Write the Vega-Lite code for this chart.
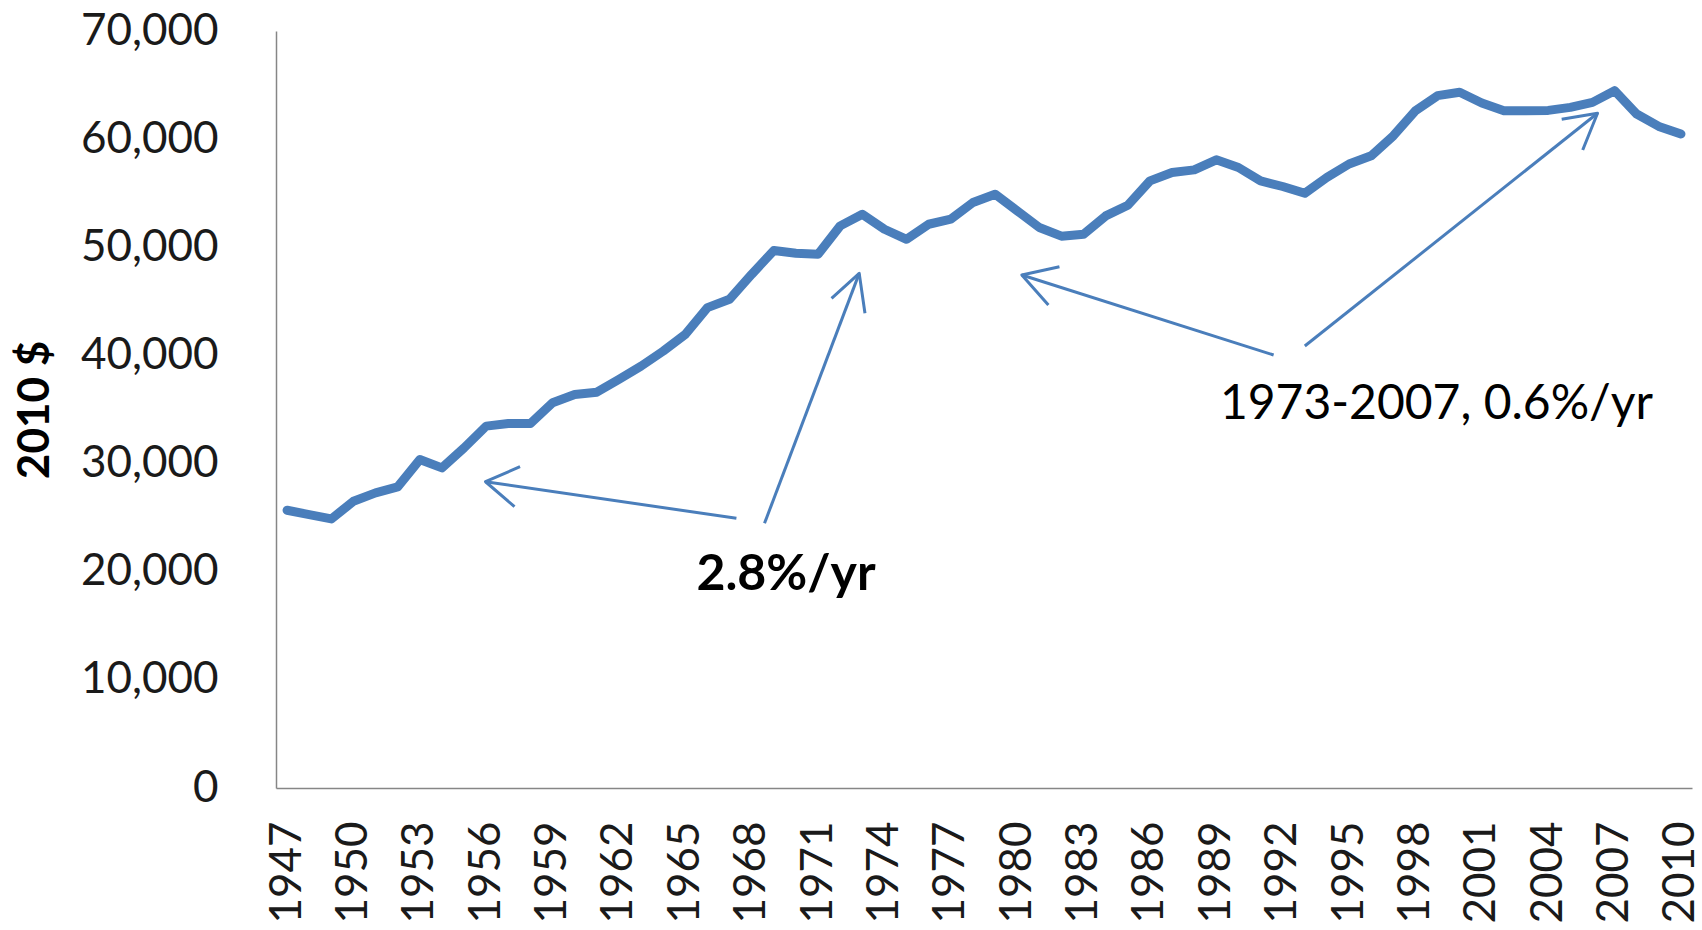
{
  "$schema": "https://vega.github.io/schema/vega-lite/v6.json",
  "autosize": {"type": "none"},
  "padding": {"left": 276, "top": 31, "right": 10, "bottom": 142},
  "width": 1416,
  "height": 757,
  "background": "white",
  "config": {
    "view": {"stroke": null},
    "font": "Lato"
  },
  "datasets": {
    "income": [
      {"year": 1947, "value": 25680}, {"year": 1948, "value": 25280}, {"year": 1949, "value": 24880},
      {"year": 1950, "value": 26510}, {"year": 1951, "value": 27290}, {"year": 1952, "value": 27840},
      {"year": 1953, "value": 30370}, {"year": 1954, "value": 29600}, {"year": 1955, "value": 31450},
      {"year": 1956, "value": 33460}, {"year": 1957, "value": 33700}, {"year": 1958, "value": 33700},
      {"year": 1959, "value": 35620}, {"year": 1960, "value": 36390}, {"year": 1961, "value": 36600},
      {"year": 1962, "value": 37780}, {"year": 1963, "value": 39010}, {"year": 1964, "value": 40400},
      {"year": 1965, "value": 41950}, {"year": 1966, "value": 44420}, {"year": 1967, "value": 45190},
      {"year": 1968, "value": 47500}, {"year": 1969, "value": 49700}, {"year": 1970, "value": 49450},
      {"year": 1971, "value": 49350}, {"year": 1972, "value": 51980}, {"year": 1973, "value": 53060},
      {"year": 1974, "value": 51670}, {"year": 1975, "value": 50740}, {"year": 1976, "value": 52130},
      {"year": 1977, "value": 52600}, {"year": 1978, "value": 54140}, {"year": 1979, "value": 54910},
      {"year": 1980, "value": 53370}, {"year": 1981, "value": 51830}, {"year": 1982, "value": 51030},
      {"year": 1983, "value": 51210}, {"year": 1984, "value": 52900}, {"year": 1985, "value": 53890},
      {"year": 1986, "value": 56140}, {"year": 1987, "value": 56920}, {"year": 1988, "value": 57160},
      {"year": 1989, "value": 58090}, {"year": 1990, "value": 57380}, {"year": 1991, "value": 56140},
      {"year": 1992, "value": 55620}, {"year": 1993, "value": 55000}, {"year": 1994, "value": 56460},
      {"year": 1995, "value": 57700}, {"year": 1996, "value": 58460}, {"year": 1997, "value": 60310},
      {"year": 1998, "value": 62630}, {"year": 1999, "value": 64020}, {"year": 2000, "value": 64330},
      {"year": 2001, "value": 63340}, {"year": 2002, "value": 62630}, {"year": 2003, "value": 62630},
      {"year": 2004, "value": 62660}, {"year": 2005, "value": 62940}, {"year": 2006, "value": 63400},
      {"year": 2007, "value": 64480}, {"year": 2008, "value": 62320}, {"year": 2009, "value": 61180},
      {"year": 2010, "value": 60470}
    ],
    "arrows": [
      {"seg": "a1s", "ord": 0, "year": 1967.31, "value": 24940},
      {"seg": "a1s", "ord": 1, "year": 1955.97, "value": 28320},
      {"seg": "a1h", "ord": 0, "year": 1957.53, "value": 29710},
      {"seg": "a1h", "ord": 1, "year": 1955.97, "value": 28320},
      {"seg": "a1h", "ord": 2, "year": 1957.28, "value": 26010},
      {"seg": "a2s", "ord": 0, "year": 1968.58, "value": 24480},
      {"seg": "a2s", "ord": 1, "year": 1972.86, "value": 47590},
      {"seg": "a2h", "ord": 0, "year": 1971.61, "value": 45280},
      {"seg": "a2h", "ord": 1, "year": 1972.86, "value": 47590},
      {"seg": "a2h", "ord": 2, "year": 1973.12, "value": 43900},
      {"seg": "a3s", "ord": 0, "year": 1991.59, "value": 40040},
      {"seg": "a3s", "ord": 1, "year": 1980.21, "value": 47440},
      {"seg": "a3h", "ord": 0, "year": 1981.91, "value": 48200},
      {"seg": "a3h", "ord": 1, "year": 1980.21, "value": 47440},
      {"seg": "a3h", "ord": 2, "year": 1981.41, "value": 44660},
      {"seg": "a4s", "ord": 0, "year": 1993.0, "value": 40870},
      {"seg": "a4s", "ord": 1, "year": 2006.23, "value": 62390},
      {"seg": "a4h", "ord": 0, "year": 2004.61, "value": 61840},
      {"seg": "a4h", "ord": 1, "year": 2006.23, "value": 62390},
      {"seg": "a4h", "ord": 2, "year": 2005.56, "value": 59000}
    ],
    "notes": [
      {"label": "2.8%/yr", "year": 1969.55, "value": 18310, "kind": "bold"},
      {"label": "1973-2007, 0.6%/yr", "year": 1998.95, "value": 34100, "kind": "regular"}
    ]
  },
  "encoding": {
    "x": {
      "field": "year", "type": "quantitative",
      "scale": {"domain": [1946.5, 2010.5], "nice": false, "zero": false},
      "axis": {
        "title": null,
        "values": [1947, 1950, 1953, 1956, 1959, 1962, 1965, 1968, 1971, 1974, 1977, 1980, 1983, 1986, 1989, 1992, 1995, 1998, 2001, 2004, 2007, 2010],
        "format": "d",
        "labelAngle": -90,
        "labelPadding": 33,
        "labelFont": "Lato",
        "labelFontSize": 44,
        "labelColor": "#1a1a1a",
        "labelOverlap": false,
        "labelBound": false,
        "labelFlush": false,
        "ticks": false,
        "tickSize": 0,
        "grid": false,
        "domainColor": "#868686",
        "domainWidth": 1.5
      }
    },
    "y": {
      "field": "value", "type": "quantitative",
      "scale": {"domain": [0, 70000], "nice": false},
      "axis": {
        "title": "2010 $",
        "titleFont": "Lato",
        "titleFontSize": 44,
        "titleFontWeight": "bold",
        "titleColor": "#000000",
        "titleAngle": -90,
        "titleBaseline": "middle",
        "titleAlign": "center",
        "titleX": -241,
        "titleY": 378.5,
        "values": [0, 10000, 20000, 30000, 40000, 50000, 60000, 70000],
        "format": ",.0f",
        "labelPadding": 58,
        "labelFont": "Lato",
        "labelFontSize": 44,
        "labelColor": "#1a1a1a",
        "labelOverlap": false,
        "labelBound": false,
        "labelFlush": false,
        "ticks": false,
        "tickSize": 0,
        "grid": false,
        "domainColor": "#868686",
        "domainWidth": 1.5
      }
    }
  },
  "layer": [
    {
      "data": {"name": "income"},
      "mark": {"type": "line", "color": "#4A7EBB", "strokeWidth": 9, "strokeJoin": "round", "strokeCap": "round"}
    },
    {
      "data": {"name": "arrows"},
      "mark": {"type": "line", "color": "#4A7EBB", "strokeWidth": 3, "strokeJoin": "round", "strokeCap": "butt"},
      "encoding": {
        "detail": {"field": "seg", "type": "nominal"},
        "order": {"field": "ord", "type": "quantitative"}
      }
    },
    {
      "data": {"name": "notes"},
      "transform": [{"filter": "datum.kind === 'bold'"}],
      "mark": {"type": "text", "font": "Lato", "fontSize": 50, "fontWeight": "bold", "color": "#000000", "align": "center", "baseline": "alphabetic"},
      "encoding": {"text": {"field": "label", "type": "nominal"}}
    },
    {
      "data": {"name": "notes"},
      "transform": [{"filter": "datum.kind === 'regular'"}],
      "mark": {"type": "text", "font": "Lato", "fontSize": 48, "fontWeight": "normal", "color": "#000000", "align": "center", "baseline": "alphabetic"},
      "encoding": {"text": {"field": "label", "type": "nominal"}}
    }
  ]
}
